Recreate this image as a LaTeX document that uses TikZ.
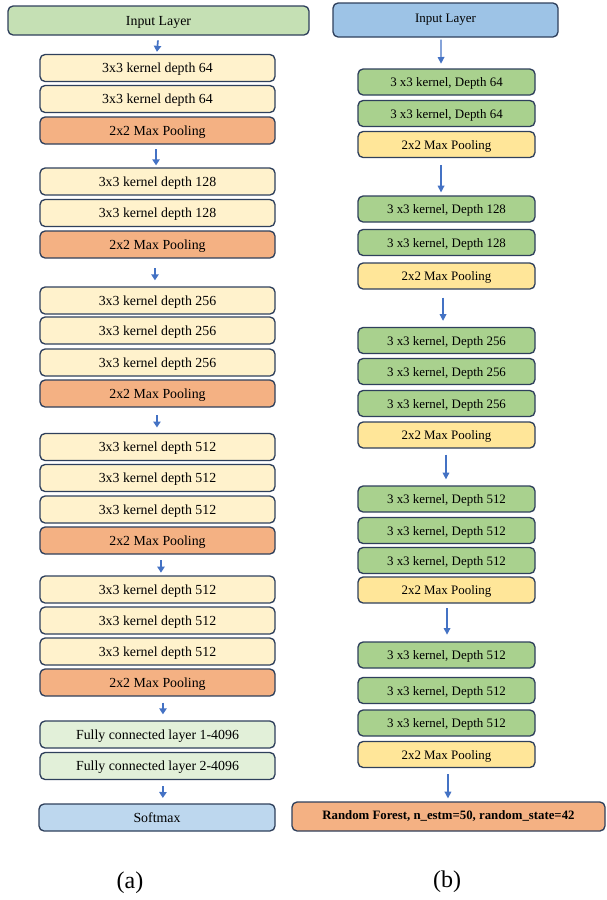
\documentclass[tikz,border=0pt]{standalone}
\usepackage{fontspec}
\setmainfont{Liberation Serif}
\usetikzlibrary{arrows.meta}
\definecolor{bordc}{RGB}{47,64,92}
\definecolor{arrc}{HTML}{4472C4}
\definecolor{inLc}{HTML}{C5E0B4}
\definecolor{lconvc}{HTML}{FFF2CC}
\definecolor{lpoolc}{HTML}{F4B183}
\definecolor{fcc}{HTML}{E2F0D9}
\definecolor{softc}{HTML}{BDD7EE}
\definecolor{inRc}{HTML}{9DC3E6}
\definecolor{rconvc}{HTML}{A9D18E}
\definecolor{rpoolc}{HTML}{FFE699}
\definecolor{rfc}{HTML}{F4B183}
\tikzset{
  x=0.75pt, y=-0.75pt,
  box/.style={draw=bordc, line width=1pt, rounded corners=3.8pt, inner sep=0pt, align=center},
  lowtext/.style={text height=7pt, text depth=0pt},
  lbox/.style={box, lowtext, minimum width=176.25pt, minimum height=20.25pt, font=\fontsize{10.4}{12}\selectfont},
  rbox/.style={box, lowtext, minimum width=132.75pt, minimum height=19.5pt, font=\fontsize{9.7}{11}\selectfont},
  lconv/.style={lbox, fill=lconvc},
  lpool/.style={lbox, fill=lpoolc},
  fcbox/.style={lbox, fill=fcc},
  rconv/.style={rbox, fill=rconvc},
  rpool/.style={rbox, fill=rpoolc},
  larr/.style={draw=arrc, line width=1.3pt, -{Triangle[width=5.5pt,length=4.5pt]}},
  rarr/.style={draw=arrc, line width=0.9pt, -{Triangle[width=5pt,length=5pt]}},
  caplabel/.style={font=\fontsize{18}{21}\selectfont}
}
\begin{document}
\begin{tikzpicture}
\useasboundingbox (0,0) rectangle (607,900);
% ---------- (a) ----------
\node[box, lowtext, fill=inLc, minimum width=225.75pt, minimum height=21.75pt, font=\fontsize{10.4}{12}\selectfont] (inL) at (158.5,20.5) {Input Layer};
\node[lconv] (L64a) at (157.5,68) {3x3 kernel depth 64};
\node[lconv] (L64b) at (157.5,99) {3x3 kernel depth 64};
\node[lpool] (Lp1) at (157.5,130.5) {2x2 Max Pooling};
\node[lconv] (L128a) at (157.5,181.5) {3x3 kernel depth 128};
\node[lconv] (L128b) at (157.5,213) {3x3 kernel depth 128};
\node[lpool] (Lp2) at (157.5,244.5) {2x2 Max Pooling};
\node[lconv] (L256a) at (157.5,300.5) {3x3 kernel depth 256};
\node[lconv] (L256b) at (157.5,330.5) {3x3 kernel depth 256};
\node[lconv] (L256c) at (157.5,362.5) {3x3 kernel depth 256};
\node[lpool] (Lp3) at (157.5,393.5) {2x2 Max Pooling};
\node[lconv] (L512a) at (157.5,447) {3x3 kernel depth 512};
\node[lconv] (L512b) at (157.5,478) {3x3 kernel depth 512};
\node[lconv] (L512c) at (157.5,509.5) {3x3 kernel depth 512};
\node[lpool] (Lp4) at (157.5,540.5) {2x2 Max Pooling};
\node[lconv] (L512d) at (157.5,589.5) {3x3 kernel depth 512};
\node[lconv] (L512e) at (157.5,620.5) {3x3 kernel depth 512};
\node[lconv] (L512f) at (157.5,651.5) {3x3 kernel depth 512};
\node[lpool] (Lp5) at (157.5,682.5) {2x2 Max Pooling};
\node[fcbox] (FC1) at (157.5,734.5) {Fully connected layer 1-4096};
\node[fcbox] (FC2) at (157.5,766) {Fully connected layer 2-4096};
\node[lbox, fill=softc, minimum width=177pt] (Soft) at (157,817.5) {Softmax};
\draw[larr] ([xshift=-0.4pt,yshift=-3.5pt]inL.south) -- ([xshift=-0.4pt,yshift=1.5pt]L64a.north);
\draw[larr] ([xshift=-1.1pt,yshift=-3.5pt]Lp1.south) -- ([xshift=-1.1pt,yshift=1.5pt]L128a.north);
\draw[larr] ([xshift=-1.9pt,yshift=-7pt]Lp2.south) -- ([xshift=-1.9pt,yshift=4.5pt]L256a.north);
\draw[larr] ([xshift=-0.4pt,yshift=-5.5pt]Lp3.south) -- ([xshift=-0.4pt,yshift=4pt]L512a.north);
\draw[larr] ([xshift=2.6pt,yshift=-4pt]Lp4.south) -- ([xshift=2.6pt,yshift=2pt]L512d.north);
\draw[larr] ([xshift=4.1pt,yshift=-4.5pt]Lp5.south) -- ([xshift=4.1pt,yshift=4.5pt]FC1.north);
\draw[larr] ([xshift=4.1pt,yshift=-4.5pt]FC2.south) -- ([xshift=4.4pt,yshift=4pt]Soft.north);
\node[caplabel] (capa) at (130,883) {(a)};
% ---------- (b) ----------
\node[box, fill=inRc, minimum width=168.75pt, minimum height=25.5pt, font=\fontsize{9.7}{11}\selectfont] (inR) at (445.5,20) {Input Layer};
\node[rconv] (R64a) at (446.5,82) {3 x3 kernel, Depth 64};
\node[rconv] (R64b) at (446.5,113.5) {3 x3 kernel, Depth 64};
\node[rpool] (Rp1) at (446.5,144.5) {2x2 Max Pooling};
\node[rconv] (R128a) at (446.5,209) {3 x3 kernel, Depth 128};
\node[rconv] (R128b) at (446.5,242.5) {3 x3 kernel, Depth 128};
\node[rpool] (Rp2) at (446.5,276) {2x2 Max Pooling};
\node[rconv] (R256a) at (446.5,340.5) {3 x3 kernel, Depth 256};
\node[rconv] (R256b) at (446.5,371.5) {3 x3 kernel, Depth 256};
\node[rconv] (R256c) at (446.5,403.5) {3 x3 kernel, Depth 256};
\node[rpool] (Rp3) at (446.5,435) {2x2 Max Pooling};
\node[rconv] (R512a) at (446.5,499) {3 x3 kernel, Depth 512};
\node[rconv] (R512b) at (446.5,530.5) {3 x3 kernel, Depth 512};
\node[rconv] (R512c) at (446.5,560.5) {3 x3 kernel, Depth 512};
\node[rpool] (Rp4) at (446.5,590) {2x2 Max Pooling};
\node[rconv] (R512d) at (446.5,655) {3 x3 kernel, Depth 512};
\node[rconv] (R512e) at (446.5,690.5) {3 x3 kernel, Depth 512};
\node[rconv] (R512f) at (446.5,723) {3 x3 kernel, Depth 512};
\node[rpool] (Rp5) at (446.5,754.5) {2x2 Max Pooling};
\node[box, fill=rfc, minimum width=234.75pt, minimum height=21.75pt, font=\fontsize{9.6}{11}\bfseries] (RF) at (448.5,816.5) {Random Forest, n\_estm=50, random\_state=42};
\draw[rarr] ([xshift=-3.4pt,yshift=-1.5pt]inR.south) -- ([xshift=-4.1pt,yshift=3.5pt]R64a.north);
\draw[rarr] ([xshift=-4.1pt,yshift=-5pt]Rp1.south) -- ([xshift=-4.1pt,yshift=2.2pt]R128a.north);
\draw[rarr] ([xshift=-2.6pt,yshift=-6pt]Rp2.south) -- ([xshift=-2.6pt,yshift=4.5pt]R256a.north);
\draw[rarr] ([xshift=-0.4pt,yshift=-4.5pt]Rp3.south) -- ([xshift=-0.4pt,yshift=4.5pt]R512a.north);
\draw[rarr] ([xshift=0.4pt,yshift=-3.5pt]Rp4.south) -- ([xshift=0.4pt,yshift=5pt]R512d.north);
\draw[rarr] ([xshift=1.1pt,yshift=-4.5pt]Rp5.south) -- ([xshift=-0.4pt,yshift=2.2pt]RF.north);
\node[caplabel] (capb) at (447,882) {(b)};
\end{tikzpicture}
\end{document}
